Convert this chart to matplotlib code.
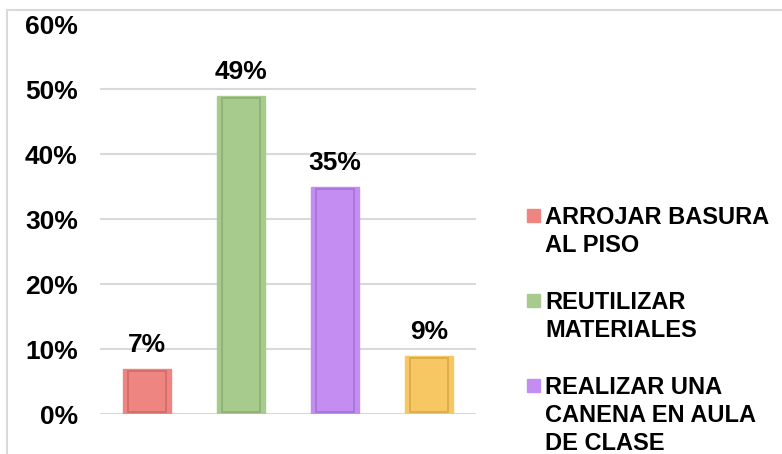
import matplotlib
matplotlib.use("Agg")
import matplotlib.pyplot as plt
from matplotlib.lines import Line2D
from matplotlib.patches import Rectangle

categories = ["ARROJAR BASURA\nAL PISO", "REUTILIZAR\nMATERIALES",
              "REALIZAR UNA\nCANENA EN AULA\nDE CLASE", ""]
values = [0.07, 0.49, 0.35, 0.09]
value_labels = ["7%", "49%", "35%", "9%"]
yticks = [0.0, 0.1, 0.2, 0.3, 0.4, 0.5, 0.6]
ytick_labels = ["0%", "10%", "20%", "30%", "40%", "50%", "60%"]
colors = ["#EE8580", "#A6CB8C", "#C38DF2", "#F6C762"]
dark = ["#C05E5A", "#7E9F68", "#9565C4", "#C79A3C"]

plt.rcParams['font.family'] = ['Liberation Sans', 'DejaVu Sans']
W, H = 782, 454
fig = plt.figure(figsize=(W / 100, H / 100), dpi=100)
ax = fig.add_axes([100 / W, 1 - 414 / H, 376 / W, (414 - 24.5) / H])

x = list(range(len(values)))
ax.bar(x, values, width=0.51, color=colors, edgecolor=colors, linewidth=1.0, zorder=3)
inner = [v - 0.006 if v > 0.012 else v for v in values]
ax.bar(x, inner, width=0.40, bottom=0.003, color="none", edgecolor=dark,
       linewidth=1.3, alpha=0.6, zorder=4)

for xi, v, lab in zip(x, values, value_labels):
    ax.annotate(lab, (xi, v), xytext=(0, 12), textcoords="offset points",
                ha="center", va="baseline", fontsize=19, fontweight="bold")

ax.set_xlim(-0.5, 3.5)
ax.set_ylim(0, 0.6)
ax.set_yticks(yticks)
ax.set_yticklabels(ytick_labels, fontsize=19, fontweight="bold")
ax.set_xticks([])
ax.tick_params(axis="y", length=0, pad=16)
ax.grid(axis="y", color="#D9D9D9", linewidth=1.5, zorder=0)
for s in ax.spines.values():
    s.set_visible(False)

# chart border (top and left visible)
fig.add_artist(Line2D([7 / W, 7 / W], [0, 1 - 10 / H], color="#D9D9D9", lw=1.5))
fig.add_artist(Line2D([7 / W, 1], [1 - 10 / H, 1 - 10 / H], color="#D9D9D9", lw=1.5))

# legend (entries drawn line by line so the marker sits on the first line)
baselines = [224, 309, 394]
line_pitch = 28
for base, lab, c in zip(baselines, categories[:3], colors[:3]):
    fig.add_artist(Rectangle((527 / W, 1 - (base - 2) / H), 13 / W, 13 / H,
                             facecolor=c, edgecolor=c, transform=fig.transFigure))
    for i, line in enumerate(lab.split("\n")):
        fig.text(545 / W, 1 - (base + i * line_pitch) / H, line, ha="left",
                 va="baseline", fontsize=17, fontweight="bold")

fig.savefig("out.png", dpi=100)
